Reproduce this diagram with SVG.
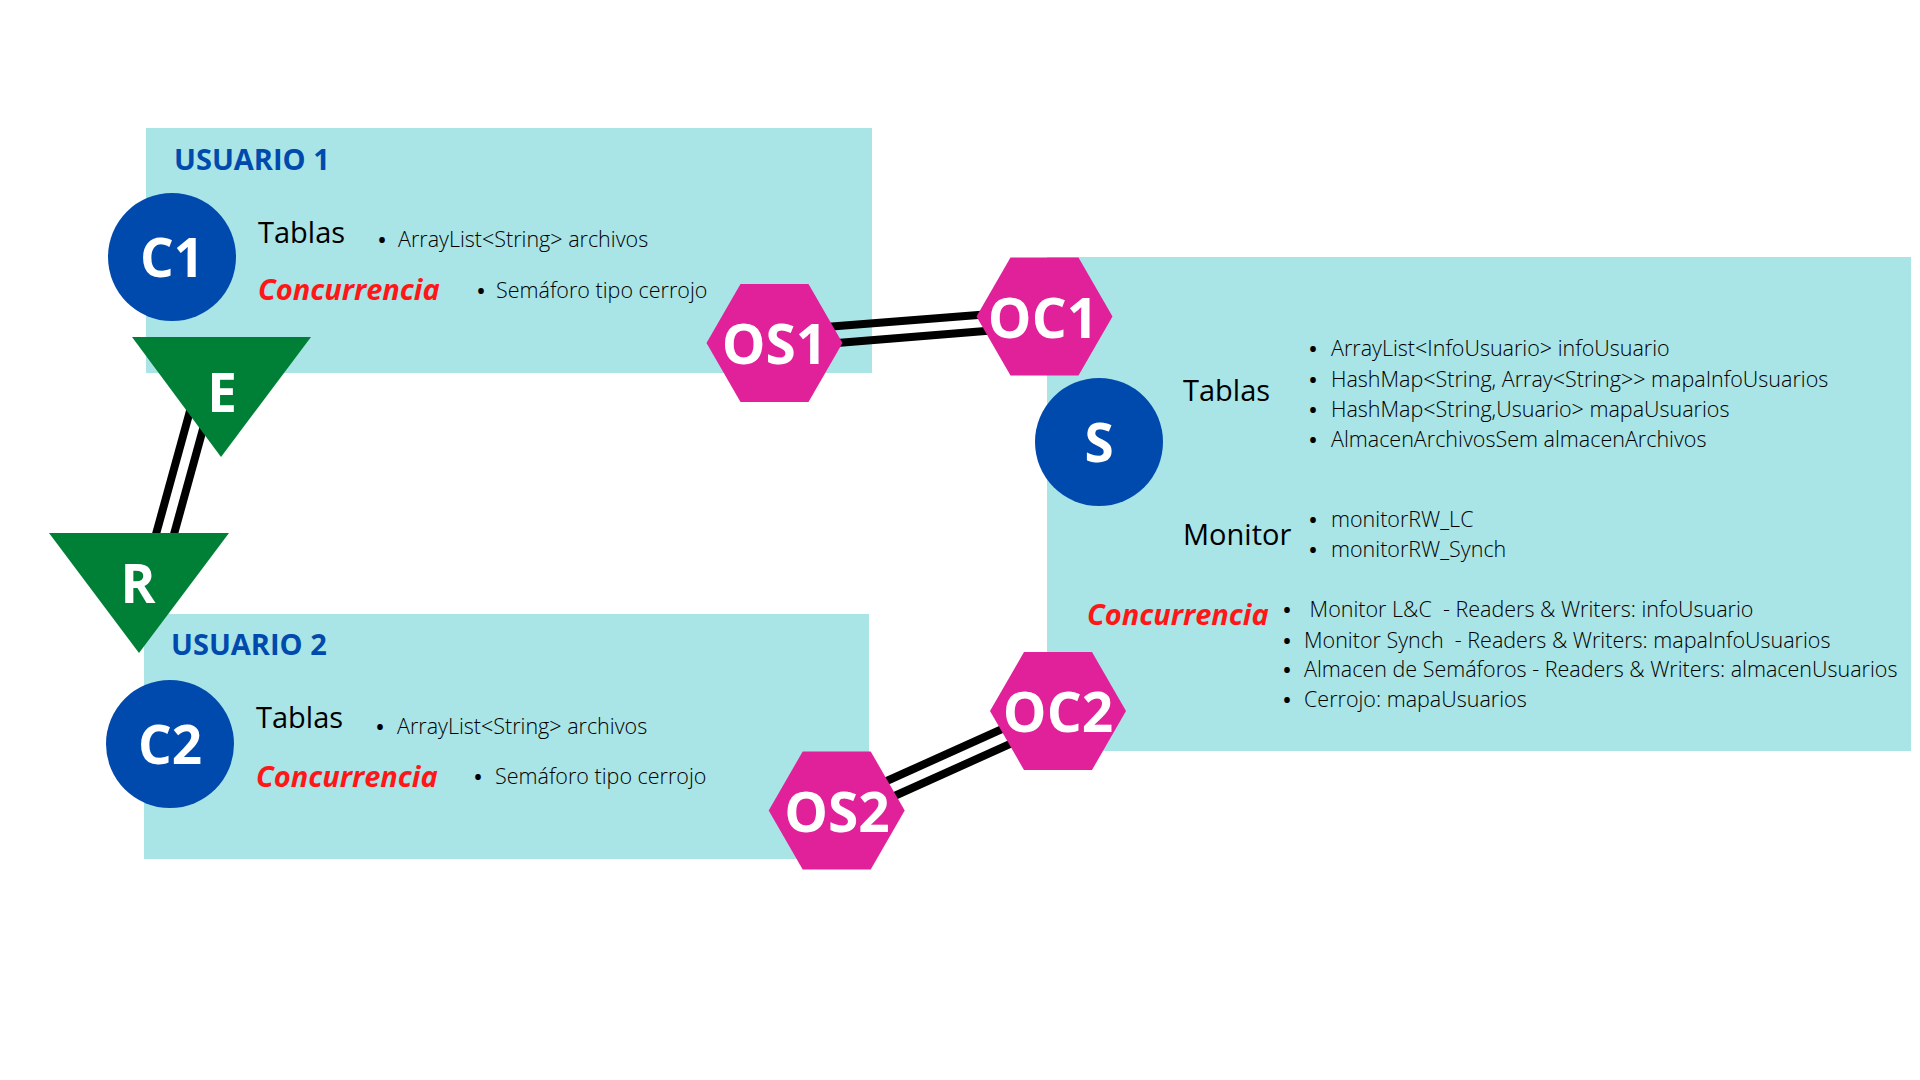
<svg xmlns="http://www.w3.org/2000/svg" width="1920" height="1080" viewBox="0 0 1920 1080">
<style>
.box{fill:#a9e4e6}
.title{font-family:"Open Sans","Liberation Sans",sans-serif;font-weight:700;font-size:29px;fill:#004aad}
.head{font-family:"Open Sans","Liberation Sans",sans-serif;font-weight:400;font-size:29px;fill:#000}
.conc{font-family:"Open Sans","Liberation Sans",sans-serif;font-weight:700;font-style:italic;font-size:29px;fill:#ff1616}
.item{font-family:"Open Sans","Liberation Sans",sans-serif;font-weight:300;font-size:21.5px;fill:#000;white-space:pre}
.sitem{font-family:"Open Sans","Liberation Sans",sans-serif;font-weight:300;font-size:21.5px;fill:#000;white-space:pre}
.bul{font-family:"Open Sans","Liberation Sans",sans-serif;font-weight:700;font-size:20px;fill:#000;text-anchor:middle}
.circ{fill:#004aad}
.tri{fill:#008037}
.hex{fill:#e0219a}
.lbl{font-family:"Open Sans","Liberation Sans",sans-serif;font-weight:700;font-size:53px;fill:#fff;text-anchor:middle}
.hlbl{font-family:"Open Sans","Liberation Sans",sans-serif;font-weight:700;font-size:55px;fill:#fff;text-anchor:middle}
.link{stroke:#000;stroke-width:8;fill:none}
</style>
<defs>
<polygon id="hexshape" points="-68,0 -34,-59 34,-59 68,0 34,59 -34,59"/>
</defs>
<rect width="1920" height="1080" fill="#fff"/>

<g id="usuario1">
<rect class="box" x="146" y="128" width="726" height="245"/>
<text class="title" x="174" y="170">USUARIO 1</text>
<text class="head" x="258" y="243">Tablas</text>
<text class="bul" x="382" y="247">•</text>
<text class="item" x="398" y="247">ArrayList&lt;String&gt; archivos</text>
<text class="conc" x="258" y="300">Concurrencia</text>
<text class="bul" x="481" y="298">•</text>
<text class="item" x="496" y="298">Semáforo tipo cerrojo</text>
</g>

<g id="usuario2">
<rect class="box" x="144" y="614" width="725" height="245"/>
<text class="title" x="171" y="655">USUARIO 2</text>
<text class="head" x="256" y="728">Tablas</text>
<text class="bul" x="380" y="734">•</text>
<text class="item" x="397" y="734">ArrayList&lt;String&gt; archivos</text>
<text class="conc" x="256" y="787">Concurrencia</text>
<text class="bul" x="478" y="784">•</text>
<text class="item" x="495" y="784">Semáforo tipo cerrojo</text>
</g>

<g id="servidor">
<rect class="box" x="1047" y="257" width="864" height="494"/>
<text class="head" x="1183" y="401">Tablas</text>
<text class="bul" x="1313" y="356">•</text>
<text class="sitem" x="1331" y="356">ArrayList&lt;InfoUsuario&gt; infoUsuario</text>
<text class="bul" x="1313" y="387">•</text>
<text class="sitem" x="1331" y="387">HashMap&lt;String, Array&lt;String&gt;&gt; mapaInfoUsuarios</text>
<text class="bul" x="1313" y="417">•</text>
<text class="sitem" x="1331" y="417">HashMap&lt;String,Usuario&gt; mapaUsuarios</text>
<text class="bul" x="1313" y="447">•</text>
<text class="sitem" x="1331" y="447">AlmacenArchivosSem almacenArchivos</text>
<text class="head" x="1183" y="545">Monitor</text>
<text class="bul" x="1313" y="527">•</text>
<text class="sitem" x="1331" y="527">monitorRW_LC</text>
<text class="bul" x="1313" y="557">•</text>
<text class="sitem" x="1331" y="557">monitorRW_Synch</text>
<text class="conc" x="1087" y="625">Concurrencia</text>
<text class="bul" x="1287" y="617">•</text>
<text class="sitem" x="1304" y="617"> Monitor L&amp;C  - Readers &amp; Writers: infoUsuario</text>
<text class="bul" x="1287" y="648">•</text>
<text class="sitem" x="1304" y="648">Monitor Synch  - Readers &amp; Writers: mapaInfoUsuarios</text>
<text class="bul" x="1287" y="677">•</text>
<text class="sitem" x="1304" y="677">Almacen de Semáforos - Readers &amp; Writers: almacenUsuarios</text>
<text class="bul" x="1287" y="707">•</text>
<text class="sitem" x="1304" y="707">Cerrojo: mapaUsuarios</text>
</g>

<g id="connectors">
<line class="link" x1="153" y1="545" x2="193" y2="400"/>
<line class="link" x1="171" y1="545" x2="211" y2="400"/>
<line class="link" x1="800" y1="329" x2="1010" y2="312.5"/>
<line class="link" x1="800" y1="346" x2="1010" y2="329"/>
<line class="link" x1="860" y1="793" x2="1030" y2="716.5"/>
<line class="link" x1="860" y1="811.5" x2="1030" y2="735"/>
</g>

<g id="C1"><circle class="circ" cx="172" cy="257" r="64"/><text class="lbl" x="172" y="277">C1</text></g>
<g id="C2"><circle class="circ" cx="170" cy="744" r="64"/><text class="lbl" x="170" y="764">C2</text></g>
<g id="S"><circle class="circ" cx="1099" cy="442" r="64"/><text class="lbl" x="1099" y="462">S</text></g>
<g id="E"><polygon class="tri" points="132,337 311,337 221,457"/><text class="lbl" x="222" y="412">E</text></g>
<g id="R"><polygon class="tri" points="49,533 229,533 139,653"/><text class="lbl" x="138" y="603">R</text></g>
<g id="OS1"><use href="#hexshape" class="hex" x="774.5" y="343"/><text class="hlbl" x="774.5" y="364">OS1</text></g>
<g id="OC1"><use href="#hexshape" class="hex" x="1044.5" y="316.5"/><text class="hlbl" x="1043" y="338">OC1</text></g>
<g id="OS2"><use href="#hexshape" class="hex" x="836.7" y="810.5"/><text class="hlbl" x="837" y="832">OS2</text></g>
<g id="OC2"><use href="#hexshape" class="hex" x="1058" y="711"/><text class="hlbl" x="1058" y="732">OC2</text></g>
</svg>
